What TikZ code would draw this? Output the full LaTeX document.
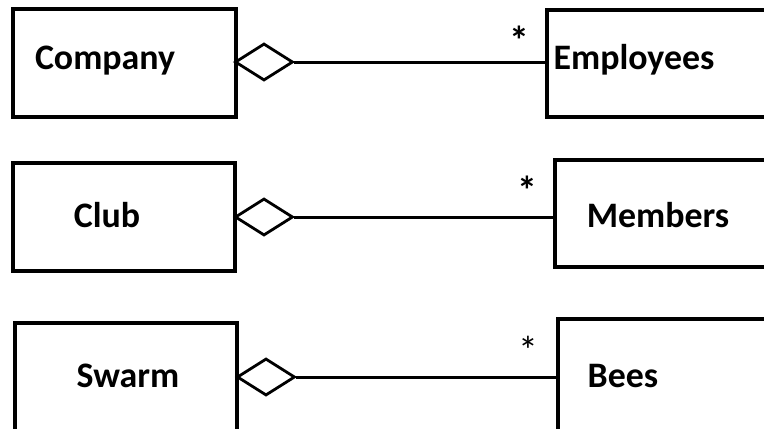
\documentclass[tikz,border=0pt]{standalone}
\usepackage{fontspec}
\setmainfont{Carlito}
\usetikzlibrary{shapes.geometric}
\begin{document}
\begin{tikzpicture}[x=1bp,y=-1bp,
  cls/.style={draw,rectangle,line width=3.2bp,inner sep=0pt},
  agg/.style={draw,diamond,line width=2.8bp,inner sep=0pt,minimum width=58bp,minimum height=37bp,fill=white},
  lbl/.style={font=\fontsize{36}{36}\selectfont\bfseries,anchor=base,inner sep=0pt},
  mult/.style={font=\fontsize{40}{40}\selectfont\bfseries,inner sep=0pt},
  multl/.style={font=\fontsize{40}{40}\selectfont,inner sep=0pt},
  conn/.style={line width=3bp}]
\useasboundingbox (0,0) rectangle (764,428);
\clip (0,0) rectangle (764,428);
% class boxes
\node[cls,minimum width=223bp,minimum height=108bp] (company) at (124.5,63) {};
\node[cls,minimum width=260bp,minimum height=107bp] (employees) at (677,63.5) {};
\node[cls,minimum width=222bp,minimum height=108bp] (club) at (124,217) {};
\node[cls,minimum width=260bp,minimum height=107bp] (members) at (685,213.5) {};
\node[cls,minimum width=222bp,minimum height=117bp] (swarm) at (126,381.5) {};
\node[cls,minimum width=260bp,minimum height=121bp] (bees) at (688,379.5) {};
% labels
\node[lbl] (tcompany) at (105,69) {Company};
\node[lbl] (temployees) at (634,69) {Employees};
\node[lbl] (tclub) at (107,227) {Club};
\node[lbl] (tmembers) at (658,227) {Members};
\node[lbl] (tswarm) at (128,387) {Swarm};
\node[lbl] (tbees) at (623,387) {Bees};
% aggregation diamonds
\node[agg] (d1) at (264,62) {};
\node[agg] (d2) at (264,217) {};
\node[agg] (d3) at (266,377) {};
% connectors
\draw[conn] (d1.east) -- (d1.east -| employees.west);
\draw[conn] (d2.east) -- (d2.east -| members.west);
\draw[conn] (d3.east) -- (d3.east -| bees.west);
% multiplicities
\node[mult] (m1) at (519,40) {*};
\node[mult] (m2) at (527,190) {*};
\node[multl] (m3) at (528,350) {*};
\end{tikzpicture}
\end{document}
